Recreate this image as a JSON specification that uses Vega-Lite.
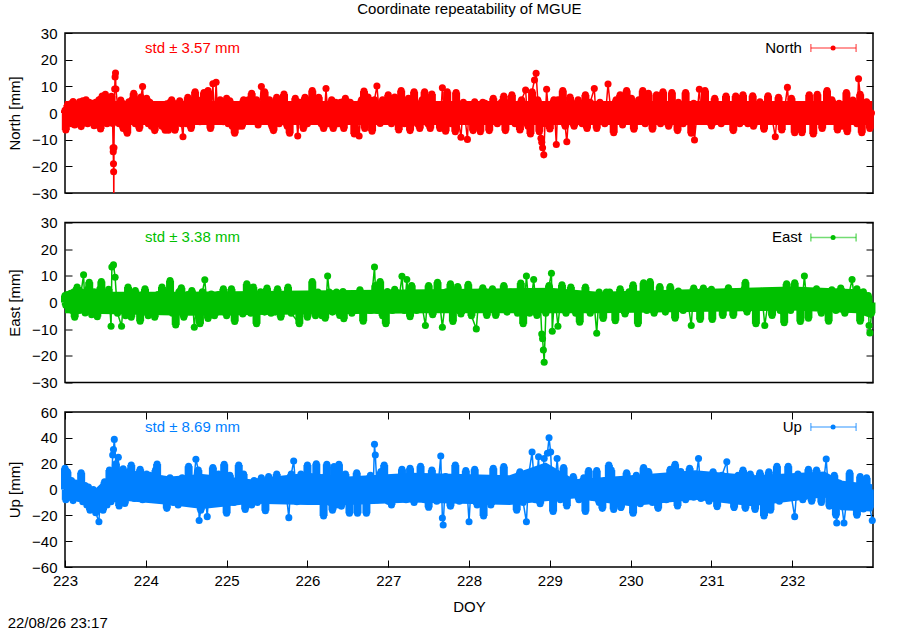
{"$schema":"https://vega.github.io/schema/vega-lite/v6.json","padding":{"left":6,"top":2,"right":21,"bottom":0},"spacing":12.5,"config":{"font":"Liberation Sans","view":{"stroke":"#000","strokeWidth":1.5},"axis":{"grid":false,"domain":false,"labelFontSize":15,"titleFontSize":15,"titleFontWeight":"normal","labelColor":"#000","titleColor":"#000","tickColor":"#000","labelFont":"Liberation Sans","titleFont":"Liberation Sans"},"title":{"font":"Liberation Sans","fontSize":15,"fontWeight":"normal"}},"title":{"text":"Coordinate repeatability of MGUE","anchor":"middle","offset":8,"dx":28},"datasets":{"nb":[{"x":223,"lo":-4.5,"hi":4.5},{"x":232.99,"lo":-4.5,"hi":4.5}],"eb":[{"x":223,"lo":-4,"hi":4},{"x":224.5,"lo":-5,"hi":4},{"x":227.5,"lo":-4,"hi":5},{"x":229,"lo":-4,"hi":5.5},{"x":229.6,"lo":-4,"hi":4},{"x":232,"lo":-3,"hi":6},{"x":232.8,"lo":-4,"hi":5},{"x":232.99,"lo":-6,"hi":2}],"ub":[{"x":223,"lo":-8,"hi":11},{"x":223.2,"lo":-9,"hi":5},{"x":223.35,"lo":-16,"hi":-1},{"x":223.55,"lo":-10,"hi":11},{"x":223.8,"lo":-9,"hi":15},{"x":224.3,"lo":-12,"hi":10},{"x":224.7,"lo":-15,"hi":12},{"x":225.3,"lo":-11,"hi":8},{"x":226,"lo":-12,"hi":13},{"x":226.5,"lo":-12,"hi":10},{"x":227.3,"lo":-10,"hi":13},{"x":228.5,"lo":-12,"hi":11},{"x":228.95,"lo":-9,"hi":21},{"x":229.3,"lo":-7,"hi":8},{"x":230,"lo":-13,"hi":11},{"x":230.8,"lo":-8,"hi":15},{"x":231.5,"lo":-13,"hi":11},{"x":232.4,"lo":-6,"hi":14},{"x":232.6,"lo":-16,"hi":7},{"x":232.99,"lo":-17,"hi":4}],"north":[{"x":223,"y":1},{"x":223.01,"y":-6.4},{"x":223.03,"y":3},{"x":223.05,"y":-3},{"x":223.07,"y":3.5},{"x":223.08,"y":-4},{"x":223.1,"y":4.3},{"x":223.12,"y":-4.5},{"x":223.14,"y":3},{"x":223.16,"y":-4},{"x":223.18,"y":4.2},{"x":223.2,"y":-5.1},{"x":223.22,"y":4.6},{"x":223.24,"y":-3.5},{"x":223.26,"y":5},{"x":223.28,"y":-4},{"x":223.3,"y":4},{"x":223.32,"y":-3},{"x":223.34,"y":3.6},{"x":223.36,"y":-4.8},{"x":223.38,"y":4},{"x":223.4,"y":-3},{"x":223.42,"y":5},{"x":223.44,"y":-6},{"x":223.46,"y":6.4},{"x":223.48,"y":-3},{"x":223.5,"y":7},{"x":223.52,"y":-4},{"x":223.54,"y":5},{"x":223.56,"y":-3},{"x":223.575,"y":6.3},{"x":223.59,"y":-3.9},{"x":223.595,"y":-13},{"x":223.597,"y":-14.5},{"x":223.6,"y":-19},{"x":223.602,"y":-22},{"x":223.604,"y":-36},{"x":223.606,"y":-13},{"x":223.615,"y":9},{"x":223.62,"y":13.5},{"x":223.625,"y":15},{"x":223.63,"y":9},{"x":223.65,"y":3},{"x":223.67,"y":-4},{"x":223.69,"y":4.9},{"x":223.72,"y":-5.8},{"x":223.74,"y":3},{"x":223.77,"y":-7.6},{"x":223.79,"y":4.2},{"x":223.81,"y":-3},{"x":223.83,"y":5},{"x":223.85,"y":7.4},{"x":223.87,"y":-4},{"x":223.89,"y":5},{"x":223.92,"y":-5.8},{"x":223.94,"y":6},{"x":223.96,"y":9.9},{"x":223.98,"y":-3},{"x":224.01,"y":5.5},{"x":224.03,"y":-4},{"x":224.05,"y":4},{"x":224.07,"y":-5},{"x":224.09,"y":3},{"x":224.11,"y":-6.6},{"x":224.13,"y":3},{"x":224.15,"y":-4},{"x":224.18,"y":2.5},{"x":224.2,"y":-5},{"x":224.22,"y":3},{"x":224.24,"y":-6.5},{"x":224.26,"y":3.5},{"x":224.28,"y":-6.5},{"x":224.3,"y":4},{"x":224.32,"y":5},{"x":224.34,"y":-4},{"x":224.36,"y":-6.5},{"x":224.38,"y":3.5},{"x":224.42,"y":4.6},{"x":224.44,"y":-4},{"x":224.46,"y":-8.9},{"x":224.48,"y":3},{"x":224.5,"y":-4},{"x":224.52,"y":5.9},{"x":224.54,"y":-3},{"x":224.56,"y":-5.8},{"x":224.59,"y":5},{"x":224.61,"y":8},{"x":224.63,"y":-2},{"x":224.67,"y":-3.3},{"x":224.69,"y":5},{"x":224.72,"y":7.7},{"x":224.74,"y":-3},{"x":224.77,"y":8.4},{"x":224.8,"y":-5.8},{"x":224.83,"y":11},{"x":224.85,"y":-3},{"x":224.87,"y":11.5},{"x":224.89,"y":-2},{"x":224.92,"y":5},{"x":224.96,"y":-3.3},{"x":225,"y":5.5},{"x":225.02,"y":-4},{"x":225.04,"y":4.6},{"x":225.07,"y":-5},{"x":225.1,"y":-7.6},{"x":225.12,"y":2.4},{"x":225.15,"y":-5},{"x":225.19,"y":-5},{"x":225.21,"y":5},{"x":225.24,"y":-3},{"x":225.27,"y":5},{"x":225.31,"y":7.4},{"x":225.34,"y":-3},{"x":225.37,"y":5},{"x":225.39,"y":-4.5},{"x":225.43,"y":9.9},{"x":225.45,"y":-2},{"x":225.47,"y":8},{"x":225.5,"y":-3},{"x":225.53,"y":5},{"x":225.56,"y":-5},{"x":225.58,"y":-6.6},{"x":225.62,"y":5.9},{"x":225.65,"y":-4},{"x":225.68,"y":4},{"x":225.71,"y":7.1},{"x":225.75,"y":-5},{"x":225.78,"y":-7.6},{"x":225.81,"y":3},{"x":225.85,"y":5.5},{"x":225.88,"y":-8.6},{"x":225.91,"y":4},{"x":225.95,"y":-5.8},{"x":225.97,"y":5.9},{"x":226,"y":-4},{"x":226.03,"y":5},{"x":226.06,"y":8.4},{"x":226.09,"y":-3},{"x":226.14,"y":5.9},{"x":226.17,"y":-4},{"x":226.2,"y":-5.8},{"x":226.23,"y":9.2},{"x":226.26,"y":-4},{"x":226.3,"y":5},{"x":226.32,"y":-5.8},{"x":226.35,"y":4},{"x":226.38,"y":-4},{"x":226.41,"y":4},{"x":226.45,"y":-5.8},{"x":226.47,"y":5.5},{"x":226.5,"y":-3},{"x":226.53,"y":4},{"x":226.58,"y":-7.9},{"x":226.6,"y":3},{"x":226.64,"y":-8.6},{"x":226.67,"y":5},{"x":226.7,"y":8.2},{"x":226.71,"y":-5.8},{"x":226.75,"y":6},{"x":226.8,"y":-6.8},{"x":226.83,"y":5},{"x":226.86,"y":10.1},{"x":226.9,"y":-3.9},{"x":226.93,"y":5},{"x":226.97,"y":-3},{"x":227,"y":6.8},{"x":227.04,"y":-4},{"x":227.08,"y":6},{"x":227.13,"y":-6.4},{"x":227.16,"y":8.4},{"x":227.2,"y":-4},{"x":227.25,"y":5.5},{"x":227.27,"y":-6.6},{"x":227.32,"y":8},{"x":227.36,"y":-4},{"x":227.39,"y":-5.8},{"x":227.42,"y":5},{"x":227.45,"y":8},{"x":227.49,"y":-4},{"x":227.52,"y":-5.8},{"x":227.54,"y":7.1},{"x":227.59,"y":-3},{"x":227.64,"y":-5.8},{"x":227.67,"y":9.5},{"x":227.71,"y":-6.8},{"x":227.73,"y":8},{"x":227.78,"y":-4},{"x":227.83,"y":-7},{"x":227.84,"y":7.7},{"x":227.87,"y":-3},{"x":227.9,"y":-9.1},{"x":227.93,"y":4},{"x":227.98,"y":-9.9},{"x":228,"y":3},{"x":228.05,"y":-6.6},{"x":228.07,"y":4.2},{"x":228.1,"y":-4},{"x":228.14,"y":-7},{"x":228.17,"y":4},{"x":228.2,"y":3.6},{"x":228.25,"y":-6.6},{"x":228.3,"y":5.5},{"x":228.35,"y":-4},{"x":228.4,"y":4},{"x":228.43,"y":6.4},{"x":228.45,"y":-6.6},{"x":228.5,"y":4},{"x":228.53,"y":6.8},{"x":228.57,"y":-4},{"x":228.63,"y":-6.4},{"x":228.65,"y":5},{"x":228.7,"y":8.6},{"x":228.73,"y":-5},{"x":228.76,"y":-7.9},{"x":228.78,"y":8},{"x":228.81,"y":12.4},{"x":228.83,"y":14.9},{"x":228.85,"y":5},{"x":228.87,"y":-7},{"x":228.89,"y":-9.5},{"x":228.9,"y":-11},{"x":228.91,"y":-13},{"x":228.925,"y":-15.7},{"x":228.94,"y":-4},{"x":228.96,"y":8.9},{"x":229,"y":-6},{"x":229.05,"y":5},{"x":229.08,"y":-11.8},{"x":229.1,"y":5},{"x":229.16,"y":8.4},{"x":229.19,"y":-5},{"x":229.21,"y":-10.8},{"x":229.25,"y":6},{"x":229.3,"y":-5},{"x":229.35,"y":5},{"x":229.4,"y":-4},{"x":229.44,"y":6.8},{"x":229.46,"y":-5.8},{"x":229.5,"y":4},{"x":229.55,"y":9.2},{"x":229.58,"y":-5.8},{"x":229.62,"y":4},{"x":229.68,"y":-4},{"x":229.72,"y":10.9},{"x":229.75,"y":2},{"x":229.79,"y":-7.4},{"x":229.82,"y":5},{"x":229.87,"y":6.8},{"x":229.9,"y":-4.5},{"x":229.95,"y":8.4},{"x":230.01,"y":5.5},{"x":230.04,"y":-6.1},{"x":230.1,"y":5},{"x":230.15,"y":8.4},{"x":230.18,"y":-4},{"x":230.22,"y":7.4},{"x":230.27,"y":-6.1},{"x":230.32,"y":6.8},{"x":230.37,"y":-4},{"x":230.4,"y":8},{"x":230.47,"y":-5},{"x":230.51,"y":7.7},{"x":230.58,"y":-6.6},{"x":230.59,"y":4},{"x":230.65,"y":-4},{"x":230.68,"y":7.7},{"x":230.75,"y":-7.6},{"x":230.78,"y":3.6},{"x":230.79,"y":-10.1},{"x":230.85,"y":8.9},{"x":230.88,"y":-3},{"x":230.92,"y":8.4},{"x":231,"y":-4.9},{"x":231.04,"y":5.5},{"x":231.12,"y":-4},{"x":231.18,"y":6.4},{"x":231.27,"y":-6.6},{"x":231.3,"y":6.4},{"x":231.35,"y":-4},{"x":231.39,"y":6.8},{"x":231.45,"y":-4},{"x":231.51,"y":6.5},{"x":231.52,"y":-5},{"x":231.6,"y":4.2},{"x":231.65,"y":-6.1},{"x":231.7,"y":6.5},{"x":231.79,"y":-8.9},{"x":231.83,"y":5.9},{"x":231.87,"y":-6.4},{"x":231.94,"y":9.6},{"x":231.97,"y":-3},{"x":231.99,"y":5.5},{"x":232.03,"y":-7.4},{"x":232.1,"y":2.4},{"x":232.12,"y":-7.4},{"x":232.21,"y":6.8},{"x":232.26,"y":-7.9},{"x":232.31,"y":7},{"x":232.37,"y":-5.8},{"x":232.43,"y":8.4},{"x":232.49,"y":5},{"x":232.56,"y":-6.4},{"x":232.58,"y":3.6},{"x":232.63,"y":-5},{"x":232.67,"y":7.7},{"x":232.68,"y":-7},{"x":232.75,"y":4.9},{"x":232.8,"y":-4},{"x":232.82,"y":12.8},{"x":232.84,"y":7},{"x":232.86,"y":-7.4},{"x":232.92,"y":4.2},{"x":232.96,"y":-5.8},{"x":232.98,"y":0}],"east":[{"x":223,"y":2.6},{"x":223.01,"y":-1},{"x":223.03,"y":3},{"x":223.05,"y":-2.5},{"x":223.07,"y":3.5},{"x":223.09,"y":-3},{"x":223.11,"y":4},{"x":223.12,"y":-5.5},{"x":223.15,"y":5.8},{"x":223.17,"y":-3},{"x":223.2,"y":4},{"x":223.23,"y":10.4},{"x":223.25,"y":-3.9},{"x":223.28,"y":5},{"x":223.3,"y":7.6},{"x":223.33,"y":-4.6},{"x":223.36,"y":4},{"x":223.4,"y":-5.3},{"x":223.43,"y":5},{"x":223.45,"y":7.9},{"x":223.48,"y":-3},{"x":223.54,"y":5},{"x":223.57,"y":-8.9},{"x":223.58,"y":13.3},{"x":223.6,"y":14.1},{"x":223.62,"y":9.5},{"x":223.65,"y":-4},{"x":223.7,"y":-8.9},{"x":223.72,"y":0},{"x":223.75,"y":-5},{"x":223.78,"y":5.8},{"x":223.82,"y":-5.5},{"x":223.87,"y":4.5},{"x":223.93,"y":-7},{"x":223.96,"y":3},{"x":223.99,"y":5.1},{"x":224.03,"y":-5},{"x":224.09,"y":2},{"x":224.11,"y":-5.5},{"x":224.15,"y":3},{"x":224.2,"y":5.8},{"x":224.23,"y":-3},{"x":224.27,"y":4},{"x":224.3,"y":8.2},{"x":224.33,"y":-4},{"x":224.35,"y":2},{"x":224.37,"y":-8.4},{"x":224.41,"y":4},{"x":224.44,"y":5.5},{"x":224.47,"y":-5.5},{"x":224.52,"y":3},{"x":224.57,"y":4.5},{"x":224.6,"y":-9.3},{"x":224.64,"y":2.6},{"x":224.67,"y":-8},{"x":224.7,"y":4},{"x":224.73,"y":8.5},{"x":224.77,"y":-6},{"x":224.81,"y":3.2},{"x":224.85,"y":-5},{"x":224.9,"y":3},{"x":224.96,"y":5.1},{"x":225,"y":-5},{"x":225.06,"y":5.1},{"x":225.1,"y":-7.1},{"x":225.13,"y":1.4},{"x":225.2,"y":-4.3},{"x":225.25,"y":7},{"x":225.3,"y":-4},{"x":225.33,"y":5.8},{"x":225.37,"y":-8},{"x":225.42,"y":4},{"x":225.47,"y":-3.6},{"x":225.5,"y":5.4},{"x":225.55,"y":-4},{"x":225.6,"y":-3.6},{"x":225.63,"y":5.1},{"x":225.67,"y":-5.5},{"x":225.72,"y":3},{"x":225.76,"y":5.8},{"x":225.8,"y":-4},{"x":225.9,"y":-8},{"x":225.93,"y":2.6},{"x":226,"y":-5.5},{"x":226.03,"y":1.4},{"x":226.06,"y":7.9},{"x":226.1,"y":-5},{"x":226.13,"y":3.9},{"x":226.18,"y":-5},{"x":226.22,"y":-5.9},{"x":226.25,"y":9.9},{"x":226.27,"y":3.9},{"x":226.31,"y":-3.6},{"x":226.36,"y":3.9},{"x":226.4,"y":-4.9},{"x":226.44,"y":4.1},{"x":226.45,"y":-6.1},{"x":226.49,"y":2},{"x":226.55,"y":-4},{"x":226.6,"y":3},{"x":226.65,"y":4.8},{"x":226.69,"y":-7},{"x":226.75,"y":3.2},{"x":226.78,"y":-3},{"x":226.83,"y":13.3},{"x":226.84,"y":6.4},{"x":226.87,"y":-3},{"x":226.9,"y":7.9},{"x":226.93,"y":-5},{"x":226.97,"y":-8},{"x":226.99,"y":4.1},{"x":227.05,"y":-3},{"x":227.08,"y":5},{"x":227.12,"y":-1.8},{"x":227.17,"y":9.8},{"x":227.2,"y":-3},{"x":227.23,"y":8.6},{"x":227.27,"y":-5.3},{"x":227.29,"y":6.4},{"x":227.35,"y":-3},{"x":227.4,"y":2},{"x":227.46,"y":-8.6},{"x":227.5,"y":6.4},{"x":227.55,"y":-4.6},{"x":227.61,"y":7.6},{"x":227.67,"y":-9.3},{"x":227.72,"y":4},{"x":227.77,"y":7},{"x":227.8,"y":-7.1},{"x":227.86,"y":6},{"x":227.9,"y":-4.3},{"x":227.99,"y":6.8},{"x":228.03,"y":-5},{"x":228.09,"y":-9.9},{"x":228.12,"y":1.4},{"x":228.17,"y":5.5},{"x":228.22,"y":-4.9},{"x":228.29,"y":5.1},{"x":228.33,"y":-4.9},{"x":228.38,"y":3},{"x":228.43,"y":6.4},{"x":228.47,"y":-3.6},{"x":228.51,"y":3.9},{"x":228.6,"y":-4},{"x":228.64,"y":7.3},{"x":228.67,"y":-8},{"x":228.71,"y":9.9},{"x":228.75,"y":-4},{"x":228.8,"y":8.6},{"x":228.84,"y":-4.9},{"x":228.88,"y":0.8},{"x":228.9,"y":-11.8},{"x":228.91,"y":-13.6},{"x":228.92,"y":-17.8},{"x":228.93,"y":-22.4},{"x":228.95,"y":-4},{"x":228.99,"y":6.4},{"x":229.02,"y":11},{"x":229.03,"y":-10.8},{"x":229.06,"y":3},{"x":229.1,"y":-8.9},{"x":229.15,"y":6.6},{"x":229.2,"y":-4},{"x":229.26,"y":5.8},{"x":229.32,"y":-4},{"x":229.37,"y":-7.4},{"x":229.44,"y":5.8},{"x":229.5,"y":-4},{"x":229.54,"y":2.6},{"x":229.58,"y":-11.5},{"x":229.61,"y":3.9},{"x":229.66,"y":-6},{"x":229.7,"y":3.9},{"x":229.74,"y":3.9},{"x":229.81,"y":-6.8},{"x":229.87,"y":5.1},{"x":229.93,"y":-4.3},{"x":229.98,"y":4},{"x":230.03,"y":6.6},{"x":230.09,"y":-8},{"x":230.12,"y":3},{"x":230.16,"y":7.4},{"x":230.2,"y":-3},{"x":230.24,"y":7.9},{"x":230.29,"y":-4},{"x":230.36,"y":6},{"x":230.43,"y":-3.6},{"x":230.49,"y":6},{"x":230.55,"y":-5.9},{"x":230.59,"y":4.3},{"x":230.65,"y":-3},{"x":230.7,"y":2},{"x":230.75,"y":-8.6},{"x":230.78,"y":5.4},{"x":230.86,"y":-6.4},{"x":230.9,"y":5.4},{"x":231,"y":5},{"x":231.01,"y":-6.4},{"x":231.08,"y":3},{"x":231.14,"y":-4.9},{"x":231.21,"y":5.5},{"x":231.27,"y":-4.9},{"x":231.34,"y":4},{"x":231.42,"y":7.6},{"x":231.44,"y":-3.6},{"x":231.5,"y":3.2},{"x":231.55,"y":-8},{"x":231.62,"y":4.2},{"x":231.66,"y":-8.6},{"x":231.7,"y":0.1},{"x":231.75,"y":-4.9},{"x":231.8,"y":4.5},{"x":231.85,"y":-3},{"x":231.9,"y":-7.6},{"x":231.93,"y":7},{"x":231.98,"y":-3},{"x":232.03,"y":7.4},{"x":232.1,"y":-7.1},{"x":232.15,"y":9.9},{"x":232.2,"y":-5.9},{"x":232.3,"y":5.1},{"x":232.36,"y":-4},{"x":232.41,"y":2.6},{"x":232.45,"y":-7},{"x":232.49,"y":4.8},{"x":232.54,"y":-3},{"x":232.6,"y":5.4},{"x":232.65,"y":-4},{"x":232.74,"y":8.6},{"x":232.77,"y":1},{"x":232.8,"y":5.1},{"x":232.84,"y":-7},{"x":232.88,"y":4},{"x":232.94,"y":2.6},{"x":232.95,"y":-8.6},{"x":232.96,"y":-11.4},{"x":232.98,"y":-4}],"up":[{"x":223,"y":16.4},{"x":223.01,"y":-8},{"x":223.03,"y":13.8},{"x":223.05,"y":-6},{"x":223.08,"y":7},{"x":223.1,"y":-8.6},{"x":223.13,"y":5},{"x":223.17,"y":-7},{"x":223.2,"y":13},{"x":223.22,"y":-9.4},{"x":223.25,"y":3},{"x":223.27,"y":-12},{"x":223.29,"y":2},{"x":223.31,"y":-16},{"x":223.35,"y":0},{"x":223.38,"y":-18},{"x":223.42,"y":-25},{"x":223.44,"y":0},{"x":223.47,"y":-16},{"x":223.49,"y":6},{"x":223.52,"y":-12},{"x":223.55,"y":15},{"x":223.57,"y":-9.4},{"x":223.59,"y":26.7},{"x":223.6,"y":31},{"x":223.61,"y":38.8},{"x":223.63,"y":20},{"x":223.66,"y":25},{"x":223.67,"y":-12.8},{"x":223.7,"y":14},{"x":223.72,"y":16},{"x":223.74,"y":-10.8},{"x":223.79,"y":14},{"x":223.82,"y":19},{"x":223.86,"y":-7},{"x":223.9,"y":12},{"x":223.93,"y":15.6},{"x":223.96,"y":-8},{"x":224.01,"y":12},{"x":224.05,"y":11},{"x":224.08,"y":-5.5},{"x":224.12,"y":15},{"x":224.14,"y":19.7},{"x":224.17,"y":-5},{"x":224.2,"y":8},{"x":224.26,"y":-14.6},{"x":224.3,"y":9},{"x":224.34,"y":-10},{"x":224.38,"y":7},{"x":224.4,"y":-12},{"x":224.45,"y":9},{"x":224.48,"y":-9.5},{"x":224.53,"y":18},{"x":224.57,"y":-8},{"x":224.62,"y":23.4},{"x":224.65,"y":15},{"x":224.66,"y":-24},{"x":224.68,"y":-16},{"x":224.72,"y":7},{"x":224.76,"y":-21},{"x":224.79,"y":7},{"x":224.83,"y":17},{"x":224.86,"y":-7},{"x":224.9,"y":12},{"x":224.94,"y":-8},{"x":224.97,"y":19.5},{"x":225,"y":-18.4},{"x":225.04,"y":11},{"x":225.09,"y":-10},{"x":225.15,"y":19},{"x":225.18,"y":-8},{"x":225.21,"y":12},{"x":225.23,"y":-15.4},{"x":225.27,"y":4},{"x":225.31,"y":-12},{"x":225.34,"y":7},{"x":225.38,"y":-10},{"x":225.43,"y":9},{"x":225.48,"y":-16.4},{"x":225.52,"y":10},{"x":225.57,"y":-5},{"x":225.62,"y":12},{"x":225.67,"y":-8},{"x":225.72,"y":7},{"x":225.77,"y":-21.8},{"x":225.8,"y":12},{"x":225.83,"y":22},{"x":225.87,"y":-9.5},{"x":225.92,"y":12},{"x":225.96,"y":-7},{"x":226,"y":19},{"x":226.06,"y":-8},{"x":226.11,"y":20},{"x":226.15,"y":-6},{"x":226.2,"y":-20.5},{"x":226.22,"y":10},{"x":226.24,"y":19.5},{"x":226.28,"y":-10},{"x":226.31,"y":-16},{"x":226.33,"y":17.7},{"x":226.36,"y":-12},{"x":226.39,"y":19.5},{"x":226.42,"y":-13},{"x":226.47,"y":12},{"x":226.52,"y":-18.4},{"x":226.57,"y":7},{"x":226.61,"y":13},{"x":226.62,"y":-18.4},{"x":226.67,"y":7},{"x":226.73,"y":-18.4},{"x":226.78,"y":11},{"x":226.81,"y":-8},{"x":226.83,"y":35},{"x":226.84,"y":26.7},{"x":226.87,"y":-8},{"x":226.91,"y":14},{"x":226.95,"y":19},{"x":227,"y":-9},{"x":227.04,"y":-12},{"x":227.08,"y":5},{"x":227.13,"y":-5},{"x":227.17,"y":15.6},{"x":227.22,"y":-8},{"x":227.27,"y":16.4},{"x":227.32,"y":-10},{"x":227.4,"y":18},{"x":227.45,"y":-8},{"x":227.5,"y":-13.8},{"x":227.54,"y":15},{"x":227.6,"y":-9},{"x":227.65,"y":26},{"x":227.67,"y":-22},{"x":227.68,"y":-27.5},{"x":227.71,"y":10},{"x":227.77,"y":-13},{"x":227.83,"y":19},{"x":227.88,"y":-9},{"x":227.96,"y":14.6},{"x":228,"y":-25},{"x":228.03,"y":8},{"x":228.07,"y":15.6},{"x":228.1,"y":-12},{"x":228.15,"y":2},{"x":228.18,"y":-20.5},{"x":228.23,"y":6},{"x":228.27,"y":-12},{"x":228.3,"y":16.4},{"x":228.35,"y":-8},{"x":228.43,"y":17.7},{"x":228.47,"y":-7},{"x":228.52,"y":4},{"x":228.59,"y":-16},{"x":228.63,"y":13.8},{"x":228.67,"y":-10},{"x":228.71,"y":-25},{"x":228.74,"y":12},{"x":228.78,"y":29},{"x":228.82,"y":-8},{"x":228.86,"y":25.4},{"x":228.88,"y":-11},{"x":228.93,"y":24},{"x":228.97,"y":28},{"x":228.99,"y":40},{"x":229.01,"y":29},{"x":229.04,"y":-17},{"x":229.09,"y":24},{"x":229.13,"y":-8},{"x":229.17,"y":17},{"x":229.21,"y":-12.8},{"x":229.29,"y":10},{"x":229.36,"y":-8},{"x":229.42,"y":9},{"x":229.44,"y":-17},{"x":229.48,"y":14.6},{"x":229.53,"y":-6},{"x":229.58,"y":14.6},{"x":229.61,"y":-10},{"x":229.65,"y":-14.6},{"x":229.68,"y":7},{"x":229.73,"y":19},{"x":229.76,"y":15},{"x":229.79,"y":-15.4},{"x":229.83,"y":7},{"x":229.88,"y":-14},{"x":229.95,"y":13},{"x":230.03,"y":-18.4},{"x":230.07,"y":11},{"x":230.12,"y":-11},{"x":230.16,"y":17},{"x":230.22,"y":14},{"x":230.27,"y":-10},{"x":230.34,"y":-14.6},{"x":230.38,"y":6},{"x":230.44,"y":-8},{"x":230.49,"y":15.6},{"x":230.52,"y":-7},{"x":230.55,"y":19.5},{"x":230.58,"y":-12.8},{"x":230.62,"y":14},{"x":230.68,"y":-8},{"x":230.73,"y":16.4},{"x":230.78,"y":-6},{"x":230.84,"y":24},{"x":230.87,"y":-7},{"x":230.91,"y":10},{"x":230.97,"y":-9},{"x":231.02,"y":13.8},{"x":231.07,"y":-13.3},{"x":231.13,"y":11},{"x":231.19,"y":21.5},{"x":231.22,"y":-8},{"x":231.28,"y":-14},{"x":231.33,"y":11},{"x":231.39,"y":15},{"x":231.42,"y":-14.6},{"x":231.48,"y":12},{"x":231.54,"y":-15.4},{"x":231.6,"y":13},{"x":231.65,"y":-20.5},{"x":231.71,"y":13.8},{"x":231.73,"y":-16},{"x":231.81,"y":18},{"x":231.84,"y":-9},{"x":231.95,"y":18},{"x":231.99,"y":-6},{"x":232.03,"y":-21},{"x":232.07,"y":12},{"x":232.13,"y":-8},{"x":232.2,"y":15.6},{"x":232.24,"y":-9},{"x":232.3,"y":15},{"x":232.36,"y":-10},{"x":232.42,"y":23.6},{"x":232.46,"y":-13},{"x":232.52,"y":11},{"x":232.54,"y":-20},{"x":232.55,"y":-26},{"x":232.58,"y":5},{"x":232.64,"y":-26},{"x":232.71,"y":13},{"x":232.75,"y":-12},{"x":232.8,"y":-20},{"x":232.84,"y":10},{"x":232.88,"y":-15},{"x":232.92,"y":9},{"x":232.96,"y":-14},{"x":232.99,"y":-24}]},"vconcat":[{"width":808,"height":160,"data":{"name":"north"},"resolve":{"axis":{"y":"independent"}},"encoding":{"x":{"field":"x","type":"quantitative","scale":{"domain":[223,232.999],"nice":false,"zero":false},"axis":null}},"layer":[{"data":{"name":"nb"},"mark":{"type":"area","color":"#ff0000"},"encoding":{"y":{"field":"lo","type":"quantitative","axis":null},"y2":{"field":"hi"}}},{"transform":[{"filter":"abs(datum.y)<8.5"}],"mark":{"type":"rule","color":"#ff0000","strokeWidth":8},"encoding":{"y":{"field":"y","type":"quantitative","axis":null},"y2":{"datum":0}}},{"mark":{"type":"line","color":"#ff0000","strokeWidth":1.5,"clip":true},"encoding":{"y":{"field":"y","type":"quantitative","scale":{"domain":[-30,30],"nice":false},"axis":{"title":"North [mm]","values":[-30,-20,-10,0,10,20,30],"tickSize":-7,"labelPadding":15,"minExtent":36,"maxExtent":36,"titlePadding":7}}}},{"mark":{"type":"point","filled":true,"shape":"circle","size":50,"opacity":1,"color":"#ff0000"},"transform":[{"filter":"datum.y>-30"}],"encoding":{"y":{"field":"y","type":"quantitative","axis":{"orient":"right","title":null,"labels":false,"values":[-30,-20,-10,0,10,20,30],"tickSize":-7}}}},{"data":{"values":[{"a":223.99,"y":24.4,"t":"std ± 3.57 mm"}]},"mark":{"type":"text","align":"left","fontSize":15,"color":"#ff0000"},"encoding":{"x":{"field":"a","type":"quantitative"},"y":{"field":"y","type":"quantitative","axis":null},"text":{"field":"t"}}},{"data":{"values":[{"a":232.12,"y":24.4,"t":"North"}]},"mark":{"type":"text","align":"right","fontSize":15,"color":"#000"},"encoding":{"x":{"field":"a","type":"quantitative"},"y":{"field":"y","type":"quantitative","axis":null},"text":{"field":"t"}}},{"data":{"values":[{"a":232.23,"b":232.79,"y":24.4}]},"mark":{"type":"rule","color":"#ff0000","opacity":0.55,"strokeWidth":1.5},"encoding":{"x":{"field":"a","type":"quantitative"},"x2":{"field":"b"},"y":{"field":"y","type":"quantitative","axis":null}}},{"data":{"values":[{"a":232.23,"y":24.4},{"a":232.79,"y":24.4}]},"mark":{"type":"tick","orient":"vertical","color":"#ff0000","opacity":0.55,"size":8,"thickness":1.5},"encoding":{"x":{"field":"a","type":"quantitative"},"y":{"field":"y","type":"quantitative","axis":null}}},{"data":{"values":[{"a":232.505,"y":24.4}]},"mark":{"type":"point","filled":true,"size":25,"opacity":1,"color":"#ff0000"},"encoding":{"x":{"field":"a","type":"quantitative"},"y":{"field":"y","type":"quantitative","axis":null}}}]},{"width":808,"height":160,"data":{"name":"east"},"resolve":{"axis":{"y":"independent"}},"encoding":{"x":{"field":"x","type":"quantitative","scale":{"domain":[223,232.999],"nice":false,"zero":false},"axis":null}},"layer":[{"data":{"name":"eb"},"mark":{"type":"area","color":"#00c000"},"encoding":{"y":{"field":"lo","type":"quantitative","axis":null},"y2":{"field":"hi"}}},{"transform":[{"filter":"abs(datum.y)<8.5"}],"mark":{"type":"rule","color":"#00c000","strokeWidth":8},"encoding":{"y":{"field":"y","type":"quantitative","axis":null},"y2":{"datum":0}}},{"mark":{"type":"line","color":"#00c000","strokeWidth":1.5,"clip":true},"encoding":{"y":{"field":"y","type":"quantitative","scale":{"domain":[-30,30],"nice":false},"axis":{"title":"East [mm]","values":[-30,-20,-10,0,10,20,30],"tickSize":-7,"labelPadding":15,"minExtent":36,"maxExtent":36,"titlePadding":7}}}},{"mark":{"type":"point","filled":true,"shape":"circle","size":50,"opacity":1,"color":"#00c000"},"encoding":{"y":{"field":"y","type":"quantitative","axis":{"orient":"right","title":null,"labels":false,"values":[-30,-20,-10,0,10,20,30],"tickSize":-7}}}},{"data":{"values":[{"a":223.99,"y":24.4,"t":"std ± 3.38 mm"}]},"mark":{"type":"text","align":"left","fontSize":15,"color":"#00c000"},"encoding":{"x":{"field":"a","type":"quantitative"},"y":{"field":"y","type":"quantitative","axis":null},"text":{"field":"t"}}},{"data":{"values":[{"a":232.12,"y":24.4,"t":"East"}]},"mark":{"type":"text","align":"right","fontSize":15,"color":"#000"},"encoding":{"x":{"field":"a","type":"quantitative"},"y":{"field":"y","type":"quantitative","axis":null},"text":{"field":"t"}}},{"data":{"values":[{"a":232.23,"b":232.79,"y":24.4}]},"mark":{"type":"rule","color":"#00c000","opacity":0.55,"strokeWidth":1.5},"encoding":{"x":{"field":"a","type":"quantitative"},"x2":{"field":"b"},"y":{"field":"y","type":"quantitative","axis":null}}},{"data":{"values":[{"a":232.23,"y":24.4},{"a":232.79,"y":24.4}]},"mark":{"type":"tick","orient":"vertical","color":"#00c000","opacity":0.55,"size":8,"thickness":1.5},"encoding":{"x":{"field":"a","type":"quantitative"},"y":{"field":"y","type":"quantitative","axis":null}}},{"data":{"values":[{"a":232.505,"y":24.4}]},"mark":{"type":"point","filled":true,"size":25,"opacity":1,"color":"#00c000"},"encoding":{"x":{"field":"a","type":"quantitative"},"y":{"field":"y","type":"quantitative","axis":null}}}]},{"width":808,"height":155,"data":{"name":"up"},"resolve":{"axis":{"x":"independent","y":"independent"}},"layer":[{"data":{"name":"ub"},"mark":{"type":"area","color":"#0080ff"},"encoding":{"x":{"field":"x","type":"quantitative","scale":{"domain":[223,232.999],"nice":false,"zero":false},"axis":null},"y":{"field":"lo","type":"quantitative","axis":null},"y2":{"field":"hi"}}},{"transform":[{"filter":"abs(datum.y)<21"}],"mark":{"type":"rule","color":"#0080ff","strokeWidth":8},"encoding":{"x":{"field":"x","type":"quantitative","scale":{"domain":[223,232.999],"nice":false,"zero":false},"axis":null},"y":{"field":"y","type":"quantitative","axis":null},"y2":{"datum":0}}},{"mark":{"type":"line","color":"#0080ff","strokeWidth":1.5,"clip":true},"encoding":{"x":{"field":"x","type":"quantitative","scale":{"domain":[223,232.999],"nice":false,"zero":false},"axis":{"title":"DOY","values":[223,224,225,226,227,228,229,230,231,232],"tickSize":-7,"labelPadding":13,"labelFlush":false,"format":"d","titlePadding":11}},"y":{"field":"y","type":"quantitative","scale":{"domain":[-60,60],"nice":false},"axis":{"title":"Up [mm]","values":[-60,-40,-20,0,20,40,60],"tickSize":-7,"labelPadding":15,"minExtent":36,"maxExtent":36,"titlePadding":7}}}},{"mark":{"type":"point","filled":true,"size":50,"opacity":1,"color":"#0080ff"},"encoding":{"x":{"field":"x","type":"quantitative","axis":{"orient":"top","title":null,"labels":false,"values":[223,224,225,226,227,228,229,230,231,232],"tickSize":-7}},"y":{"field":"y","type":"quantitative","axis":{"orient":"right","title":null,"labels":false,"values":[-60,-40,-20,0,20,40,60],"tickSize":-7}}}},{"data":{"values":[{"a":222.29,"y":-103,"t":"22/08/26 23:17"}]},"mark":{"type":"text","align":"left","fontSize":15,"clip":false},"encoding":{"x":{"field":"a","type":"quantitative","axis":null},"y":{"field":"y","type":"quantitative","axis":null},"text":{"field":"t"}}},{"data":{"values":[{"a":223.99,"y":48.4,"t":"std ± 8.69 mm"}]},"mark":{"type":"text","align":"left","fontSize":15,"color":"#0080ff"},"encoding":{"x":{"field":"a","type":"quantitative","axis":null},"y":{"field":"y","type":"quantitative","axis":null},"text":{"field":"t"}}},{"data":{"values":[{"a":232.12,"y":48.4,"t":"Up"}]},"mark":{"type":"text","align":"right","fontSize":15,"color":"#000"},"encoding":{"x":{"field":"a","type":"quantitative","axis":null},"y":{"field":"y","type":"quantitative","axis":null},"text":{"field":"t"}}},{"data":{"values":[{"a":232.23,"b":232.79,"y":48.4}]},"mark":{"type":"rule","color":"#0080ff","opacity":0.55,"strokeWidth":1.5},"encoding":{"x":{"field":"a","type":"quantitative","axis":null},"x2":{"field":"b"},"y":{"field":"y","type":"quantitative","axis":null}}},{"data":{"values":[{"a":232.23,"y":48.4},{"a":232.79,"y":48.4}]},"mark":{"type":"tick","orient":"vertical","color":"#0080ff","opacity":0.55,"size":8,"thickness":1.5},"encoding":{"x":{"field":"a","type":"quantitative","axis":null},"y":{"field":"y","type":"quantitative","axis":null}}},{"data":{"values":[{"a":232.505,"y":48.4}]},"mark":{"type":"point","filled":true,"size":25,"opacity":1,"color":"#0080ff"},"encoding":{"x":{"field":"a","type":"quantitative","axis":null},"y":{"field":"y","type":"quantitative","axis":null}}}]}]}
